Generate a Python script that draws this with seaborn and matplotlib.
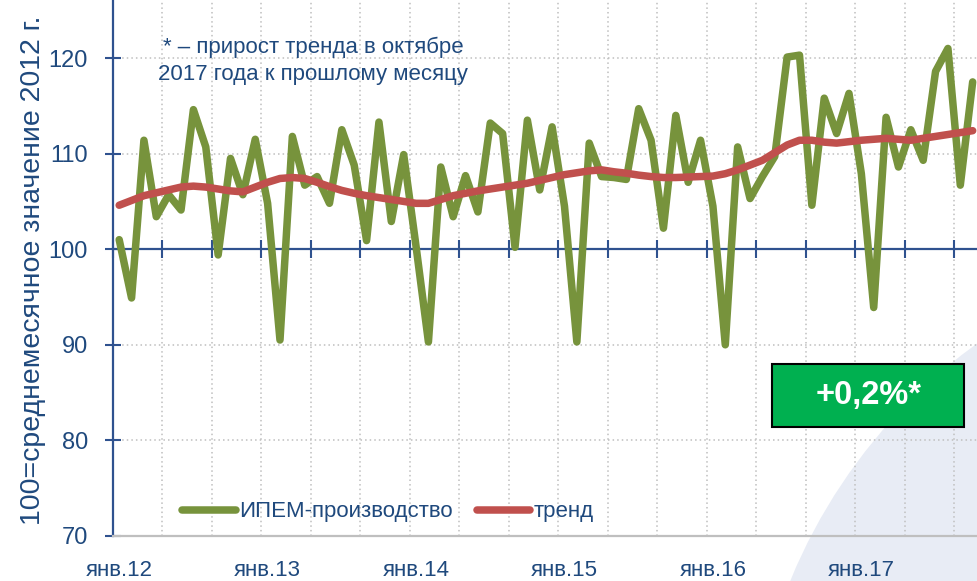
"""IPEM production index vs trend, monthly 2012-2017."""

import matplotlib.pyplot as plt
import numpy as np
import pandas as pd
import seaborn as sns
from matplotlib.patches import Ellipse, Rectangle
from matplotlib.ticker import FixedLocator, MultipleLocator

# monthly values, Jan 2012 .. Oct 2017
ipem = [
    101.0, 94.9, 111.4, 103.4, 105.7, 104.1, 114.6, 110.7, 99.4, 109.5, 105.7, 111.5,
    104.8, 90.5, 111.8, 106.7, 107.6, 104.8, 112.5, 108.8, 100.9, 113.3, 102.9, 109.9,
    100.3, 90.3, 108.6, 103.4, 107.7, 103.9, 113.2, 112.1, 100.2, 113.5, 106.2, 112.8,
    104.5, 90.3, 111.1, 107.6, 107.5, 107.3, 114.7, 111.4, 102.2, 114.0, 107.0, 111.4,
    104.5, 90.0, 110.7, 105.3, 107.6, 109.7, 120.1, 120.3, 104.6, 115.8, 112.1, 116.3,
    107.9, 93.9, 113.8, 108.6, 112.5, 109.3, 118.6, 121.0, 106.7, 117.5,
]
trend = [
    104.6, 105.1, 105.6, 105.9, 106.2, 106.5, 106.6, 106.5, 106.3, 106.1, 106.0, 106.5,
    107.0, 107.4, 107.5, 107.4, 107.0, 106.55, 106.15, 105.85, 105.6, 105.4, 105.2, 105.0,
    104.8, 104.8, 105.2, 105.6, 105.85, 106.1, 106.3, 106.5, 106.7, 106.9, 107.2, 107.5,
    107.8, 108.0, 108.2, 108.3, 108.1, 107.95, 107.75, 107.6, 107.5, 107.5, 107.55, 107.6,
    107.65, 107.9, 108.3, 108.8, 109.3, 110.1, 110.9, 111.4, 111.4, 111.2, 111.1, 111.25,
    111.4, 111.5, 111.6, 111.5, 111.4, 111.6, 111.8, 112.0, 112.2, 112.4,
]
year_labels = ["янв.12", "янв.13", "янв.14", "янв.15", "янв.16", "янв.17"]
series_names = ["ИПЕМ-производство", "тренд"]
note = "* – прирост тренда в октябре\n2017 года к прошлому месяцу"
badge = "+0,2%*"

NAVY = "#1F497D"
AXIS = "#2F528F"
GREEN = "#77933C"
RED = "#C0504D"
FS = 16

sns.set_theme(style="white")
plt.rcParams["font.family"] = ["Liberation Sans", "DejaVu Sans"]

month = np.arange(len(ipem))
frame = pd.DataFrame({
    "month": np.concatenate([month, month]),
    "value": ipem + trend,
    "series": [series_names[0]] * len(ipem) + [series_names[1]] * len(trend),
})

fig = plt.figure(figsize=(9.77, 5.81), dpi=100)
fig.patch.set_facecolor("white")
fig.patches.append(Ellipse((1.3306, -0.3597), 1.128, 1.897, transform=fig.transFigure,
                           facecolor="#E8ECF5", edgecolor="none", zorder=-1))
ax = fig.add_axes([113 / 977, 45 / 581, 1 - 113 / 977, 536 / 581])
ax.set_facecolor("none")

sns.lineplot(data=frame, x="month", y="value", hue="series", hue_order=series_names,
             palette=[GREEN, RED], linewidth=5.4, ax=ax, legend=False,
             solid_capstyle="round", solid_joinstyle="round", zorder=3)

ax.set_xlim(-0.5, 69.35)
ax.set_ylim(70, 126.07)

# axes: category labels at every January, tick marks every 4 months
ax.xaxis.set_major_locator(FixedLocator(np.arange(0, 61, 12)))
ax.set_xticklabels(year_labels)
ax.xaxis.set_minor_locator(FixedLocator(np.arange(-0.5, 70, 4)))
ax.yaxis.set_major_locator(MultipleLocator(10))
ax.tick_params(axis="x", which="major", length=0, pad=17, labelsize=FS,
               labelcolor=NAVY, bottom=True, top=False)
ax.tick_params(axis="x", which="minor", direction="inout", length=13, width=1.5,
               color=AXIS, bottom=False, top=True)
ax.tick_params(axis="y", which="major", direction="inout", length=12, width=1.5,
               color=AXIS, pad=12, labelsize=FS + 1, labelcolor=NAVY, left=True)
ax.set_xlabel("")
ax.set_ylabel("")

ax.spines["top"].set_position(("data", 100))
ax.spines["top"].set_color(AXIS)
ax.spines["top"].set_linewidth(1.6)
ax.spines["top"].set_zorder(2.5)
ax.spines["left"].set_color(AXIS)
ax.spines["left"].set_linewidth(1.6)
ax.spines["bottom"].set_color("#BFBFBF")
ax.spines["bottom"].set_linewidth(1.6)
ax.spines["right"].set_visible(False)

ax.grid(True, axis="y", which="major", color="#BFBFBF", linestyle=(0, (1, 2)), linewidth=1.1)
ax.grid(True, axis="x", which="minor", color="#BFBFBF", linestyle=(0, (1, 2)), linewidth=1.1)
ax.grid(False, axis="x", which="major")
ax.set_axisbelow(True)

fig.text(33 / 977, 1 - 270 / 581, "100=среднемесячное значение 2012 г.", rotation=90,
         ha="center", va="center", fontsize=20.5, color=NAVY)

ax.text(0.2315, 0.886, note, transform=ax.transAxes, ha="center", va="center",
        fontsize=FS, color=NAVY, linespacing=1.35)

ax.add_patch(Rectangle((0.7627, 0.2034), 0.2223, 0.1175, transform=ax.transAxes,
                       facecolor="#00B050", edgecolor="black", linewidth=1.5, zorder=5))
ax.text(0.874, 0.262, badge, transform=ax.transAxes, ha="center", va="center",
        fontsize=23.5, fontweight="bold", color="white", zorder=6)

handles = [plt.Line2D([], [], color=c, linewidth=5.4, solid_capstyle="round") for c in (GREEN, RED)]
ax.legend(handles, series_names, loc="center left", bbox_to_anchor=(0.07, 0.045), ncol=2,
          frameon=False, fontsize=FS, labelcolor=NAVY, handlelength=2.4,
          handletextpad=0.15, columnspacing=1.1, borderaxespad=0)

fig.savefig("out.png", dpi=100)
plt.close(fig)
